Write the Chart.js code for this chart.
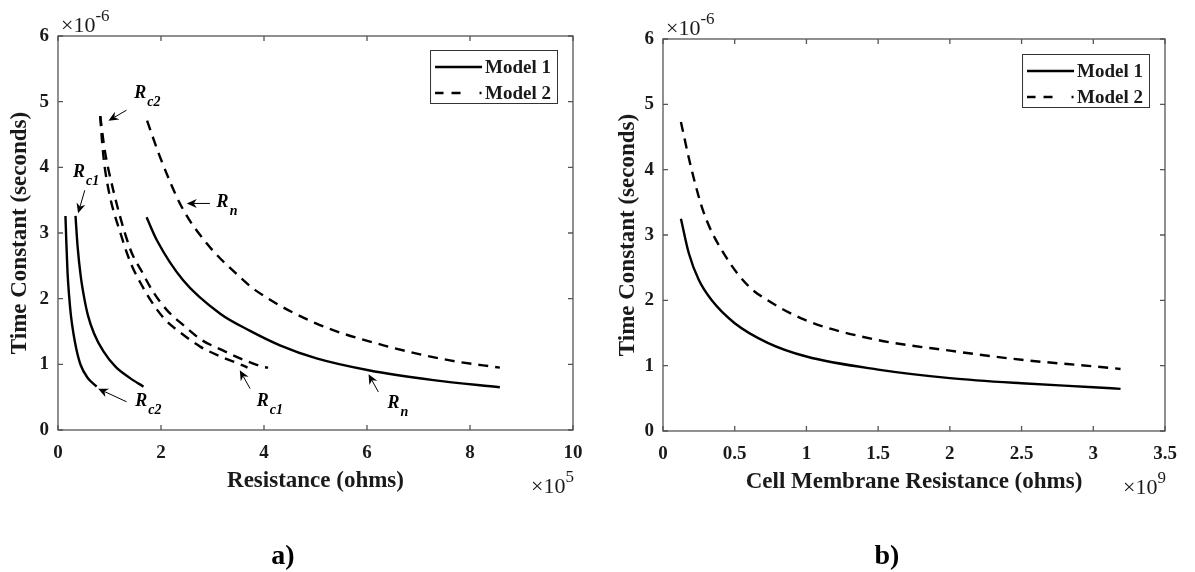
<!DOCTYPE html>
<html>
<head>
<meta charset="utf-8">
<script src="https://cdn.jsdelivr.net/npm/chart.js@4/dist/chart.umd.min.js"></script>
<style>
  body { margin: 0; background: #fff; width: 1195px; height: 572px; overflow: hidden; position: relative;
         font-family: "Liberation Serif", "Times New Roman", serif; }
  canvas { position: absolute; top: 0; }
  #chartA { left: 0; }
  #chartB { left: 600px; }
  .cap { position: absolute; top: 541px; font-weight: bold; font-size: 28px; line-height: 28px;
         transform: translateX(-50%); color: #000; }
</style>
</head>
<body>
<canvas id="chartA" width="600" height="572"></canvas>
<canvas id="chartB" width="595" height="572"></canvas>
<div class="cap" style="left:283px">a)</div>
<div class="cap" style="left:887px">b)</div>
<script>
// panel a) x = resistance (x1e5 ohms), y = time constant (x1e-6 s)
const aXTicks = [0, 2, 4, 6, 8, 10];
const aYTicks = [0, 1, 2, 3, 4, 5, 6];
const m1Rc2X = [0.145, 0.16, 0.185, 0.215, 0.25, 0.30, 0.36, 0.44, 0.57, 0.75];
const m1Rc2Y = [3.26, 2.90, 2.40, 2.05, 1.75, 1.47, 1.22, 0.99, 0.80, 0.66];
const m1Rc1X = [0.34, 0.38, 0.44, 0.50, 0.58, 0.70, 0.88, 1.12, 1.40, 1.66];
const m1Rc1Y = [3.26, 2.80, 2.35, 2.05, 1.75, 1.47, 1.20, 0.96, 0.79, 0.66];
const m1RnX = [1.72, 1.92, 2.43, 3.15, 3.73, 4.31, 5.02, 6.03, 7.29, 8.58];
const m1RnY = [3.24, 2.89, 2.28, 1.77, 1.51, 1.29, 1.09, 0.91, 0.76, 0.65];
const m2Rc2X = [0.82, 0.90, 0.99, 1.40, 1.63, 1.85, 2.11, 2.43, 2.79, 3.18, 3.57, 3.99, 4.08];
const m2Rc2Y = [4.78, 4.30, 3.93, 2.76, 2.41, 2.10, 1.83, 1.60, 1.37, 1.22, 1.08, 0.96, 0.95];
const m2Rc1X = [0.82, 0.86, 0.92, 1.26, 1.43, 1.63, 1.82, 2.08, 2.40, 2.76, 3.18, 3.60, 3.68];
const m2Rc1Y = [4.78, 4.35, 3.93, 2.88, 2.51, 2.20, 1.95, 1.68, 1.47, 1.27, 1.11, 0.98, 0.95];
const m2RnX = [1.73, 1.98, 2.40, 2.89, 3.53, 3.83, 5.02, 6.32, 7.61, 8.58];
const m2RnY = [4.71, 4.16, 3.40, 2.84, 2.33, 2.13, 1.62, 1.29, 1.06, 0.95];

// panel b) x = cell membrane resistance (x1e9 ohms)
const bXTicks = [0, 0.5, 1, 1.5, 2, 2.5, 3, 3.5];
const bYTicks = [0, 1, 2, 3, 4, 5, 6];
const bM1X = [0.125, 0.18, 0.25, 0.34, 0.5, 0.73, 1.0, 1.5, 2.0, 2.5, 3.0, 3.19];
const bM1Y = [3.25, 2.72, 2.31, 2.00, 1.65, 1.35, 1.14, 0.94, 0.81, 0.73, 0.67, 0.645];
const bM2X = [0.125, 0.195, 0.286, 0.44, 0.6, 0.73, 0.99, 1.48, 2.0, 2.5, 3.0, 3.19];
const bM2Y = [4.73, 4.04, 3.33, 2.66, 2.21, 2.00, 1.70, 1.40, 1.23, 1.09, 0.99, 0.95];

// arrow notes on panel a), in data units: tip, tail, label start
const aNotes = [
  { sub: 'c2', tip: [0.98, 4.71], tail: [1.33, 4.87], at: [1.48, 5.05] },
  { sub: 'c1', tip: [0.39, 3.30], tail: [0.52, 3.65], at: [0.29, 3.85] },
  { sub: 'n',  tip: [2.50, 3.45], tail: [2.95, 3.45], at: [3.08, 3.40] },
  { sub: 'c2', tip: [0.78, 0.63], tail: [1.33, 0.43], at: [1.50, 0.365] },
  { sub: 'c1', tip: [3.53, 0.91], tail: [3.73, 0.63], at: [3.86, 0.365] },
  { sub: 'n',  tip: [6.03, 0.85], tail: [6.22, 0.58], at: [6.40, 0.33] }
];

const FONT = '"Liberation Serif", "Times New Roman", serif';
const TEXT = '#1a1a1a';
const AXIS = '#555';

function pts(xs, ys) {
  return xs.map((x, i) => ({ x: x, y: ys[i] }));
}

function drawArrow(ctx, x1, y1, x2, y2) {
  const ang = Math.atan2(y2 - y1, x2 - x1);
  const len = 10, half = 4.5, notch = 3;
  ctx.beginPath();
  ctx.moveTo(x1, y1);
  ctx.lineTo(x2 - Math.cos(ang) * (len - notch), y2 - Math.sin(ang) * (len - notch));
  ctx.lineWidth = 1;
  ctx.stroke();
  const bx = x2 - Math.cos(ang) * len, by = y2 - Math.sin(ang) * len;
  const nx = x2 - Math.cos(ang) * (len - notch), ny = y2 - Math.sin(ang) * (len - notch);
  ctx.beginPath();
  ctx.moveTo(x2, y2);
  ctx.lineTo(bx - Math.sin(ang) * half, by + Math.cos(ang) * half);
  ctx.lineTo(nx, ny);
  ctx.lineTo(bx + Math.sin(ang) * half, by - Math.cos(ang) * half);
  ctx.closePath();
  ctx.fill();
}

const framePlugin = {
  id: 'frame',
  afterDraw(chart, args, opts) {
    const ctx = chart.ctx;
    const { left, right, top, bottom } = chart.chartArea;
    const xs = chart.scales.x, ys = chart.scales.y;
    ctx.save();

    // box and inward ticks
    ctx.strokeStyle = AXIS;
    ctx.lineWidth = 1.3;
    ctx.strokeRect(left, top, right - left, bottom - top);
    ctx.beginPath();
    xs.ticks.forEach(t => {
      const px = xs.getPixelForValue(t.value);
      ctx.moveTo(px, bottom); ctx.lineTo(px, bottom - 5);
      ctx.moveTo(px, top); ctx.lineTo(px, top + 5);
    });
    ys.ticks.forEach(t => {
      const py = ys.getPixelForValue(t.value);
      ctx.moveTo(left, py); ctx.lineTo(left + 5, py);
      ctx.moveTo(right, py); ctx.lineTo(right - 5, py);
    });
    ctx.stroke();

    // exponent labels
    ctx.fillStyle = TEXT;
    ctx.textBaseline = 'alphabetic';
    ctx.textAlign = 'left';
    ctx.font = '22px ' + FONT;
    const w10 = ctx.measureText('\u00d710').width;
    ctx.fillText('\u00d710', left + 3, top - 4);
    ctx.font = '17px ' + FONT;
    ctx.fillText(opts.yExp, left + 3 + w10, top - 15);
    const wExp = ctx.measureText(opts.xExp).width;
    ctx.font = '22px ' + FONT;
    const xStart = right + 1 - wExp - w10;
    ctx.fillText('\u00d710', xStart, bottom + 63);
    ctx.font = '17px ' + FONT;
    ctx.fillText(opts.xExp, xStart + w10, bottom + 52);

    // legend box
    const seen = [];
    chart.data.datasets.forEach(d => { if (!seen.find(s => s.label === d.label)) seen.push(d); });
    ctx.font = 'bold 19px ' + FONT;
    const textW = Math.max(...seen.map(d => ctx.measureText(d.label).width));
    const sample = 47;
    const boxW = 5 + sample + 3 + textW + 6;
    const boxH = 53;
    const bx = right - 16 - boxW, by = top + opts.legendTop;
    ctx.fillStyle = '#fff';
    ctx.fillRect(bx, by, boxW, boxH);
    ctx.strokeStyle = '#333';
    ctx.lineWidth = 1;
    ctx.strokeRect(bx + 0.5, by + 0.5, boxW, boxH);
    seen.forEach((d, i) => {
      const cy = by + 17 + i * 26;
      ctx.strokeStyle = '#000';
      ctx.lineWidth = 2.6;
      ctx.setLineDash(d.borderDash && d.borderDash.length ? [8.5, 8, 9, 19, 2] : []);
      ctx.beginPath();
      ctx.moveTo(bx + 5, cy); ctx.lineTo(bx + 5 + sample, cy);
      ctx.stroke();
      ctx.setLineDash([]);
      ctx.fillStyle = TEXT;
      ctx.textBaseline = 'middle';
      ctx.fillText(d.label, bx + 5 + sample + 3, cy + 1);
    });

    // arrow notes
    ctx.textBaseline = 'alphabetic';
    ctx.fillStyle = '#000';
    ctx.strokeStyle = '#000';
    (opts.notes || []).forEach(n => {
      drawArrow(ctx, xs.getPixelForValue(n.tail[0]), ys.getPixelForValue(n.tail[1]),
                xs.getPixelForValue(n.tip[0]), ys.getPixelForValue(n.tip[1]));
      const lx = xs.getPixelForValue(n.at[0]), ly = ys.getPixelForValue(n.at[1]);
      ctx.font = 'italic bold 18px ' + FONT;
      ctx.fillText('R', lx, ly);
      const rw = ctx.measureText('R').width;
      ctx.font = 'italic bold 14px ' + FONT;
      ctx.fillText(n.sub, lx + rw + 1, ly + 8);
    });
    ctx.restore();
  }
};

function makeChart(id, cfg) {
  const tickFont = { family: FONT, size: 19, weight: 'bold' };
  const titleFont = { family: FONT, size: 23, weight: 'bold' };
  const zeroPad = s => { s.paddingLeft = 0; s.paddingRight = 0; s.paddingTop = 0; s.paddingBottom = 0; };
  return new Chart(document.getElementById(id), {
    type: 'scatter',
    data: {
      datasets: cfg.series.map(s => ({
        label: s.label,
        data: pts(s.x, s.y),
        showLine: true,
        borderColor: '#000',
        borderWidth: 2.4,
        borderDash: s.dashed ? [10, 7] : [],
        pointRadius: 0,
        fill: false,
        cubicInterpolationMode: 'monotone'
      }))
    },
    options: {
      responsive: false,
      animation: false,
      devicePixelRatio: 1,
      layout: { padding: cfg.pad },
      plugins: {
        legend: { display: false },
        tooltip: { enabled: false },
        frame: cfg.frame
      },
      scales: {
        x: {
          type: 'linear', min: cfg.xTicks[0], max: cfg.xTicks[cfg.xTicks.length - 1],
          afterBuildTicks: s => { s.ticks = cfg.xTicks.map(v => ({ value: v })); },
          afterFit: s => { s.height = 70; zeroPad(s); },
          grid: { display: false, drawTicks: false },
          border: { display: false },
          ticks: { padding: 12, font: tickFont, color: TEXT, maxRotation: 0, autoSkip: false,
                   callback: v => String(v) },
          title: { display: true, text: cfg.xTitle, font: titleFont, color: TEXT, padding: { top: 0, bottom: 5 } }
        },
        y: {
          type: 'linear', min: 0, max: 6,
          afterBuildTicks: s => { s.ticks = cfg.yTicks.map(v => ({ value: v })); },
          afterFit: s => { s.width = cfg.yWidth; zeroPad(s); },
          grid: { display: false, drawTicks: false },
          border: { display: false },
          ticks: { padding: 9, font: tickFont, color: TEXT, autoSkip: false, callback: v => String(v) },
          title: { display: true, text: 'Time Constant (seconds)', font: titleFont, color: TEXT, padding: { top: cfg.yTitlePad, bottom: 0 } }
        }
      }
    },
    plugins: [framePlugin]
  });
}

makeChart('chartA', {
  xTicks: aXTicks, yTicks: aYTicks,
  xTitle: 'Resistance (ohms)',
  yWidth: 58, yTitlePad: 6,
  pad: { left: 0, right: 27, top: 36, bottom: 72 },
  frame: { xExp: '5', yExp: '-6', legendTop: 14, notes: aNotes },
  series: [
    { label: 'Model 1', x: m1Rc2X, y: m1Rc2Y, dashed: false },
    { label: 'Model 1', x: m1Rc1X, y: m1Rc1Y, dashed: false },
    { label: 'Model 1', x: m1RnX, y: m1RnY, dashed: false },
    { label: 'Model 2', x: m2Rc2X, y: m2Rc2Y, dashed: true },
    { label: 'Model 2', x: m2Rc1X, y: m2Rc1Y, dashed: true },
    { label: 'Model 2', x: m2RnX, y: m2RnY, dashed: true }
  ]
});

makeChart('chartB', {
  xTicks: bXTicks, yTicks: bYTicks,
  xTitle: 'Cell Membrane Resistance (ohms)',
  yWidth: 63, yTitlePad: 14,
  pad: { left: 0, right: 30, top: 39, bottom: 71 },
  frame: { xExp: '9', yExp: '-6', legendTop: 15, notes: [] },
  series: [
    { label: 'Model 1', x: bM1X, y: bM1Y, dashed: false },
    { label: 'Model 2', x: bM2X, y: bM2Y, dashed: true }
  ]
});
</script>
</body>
</html>
